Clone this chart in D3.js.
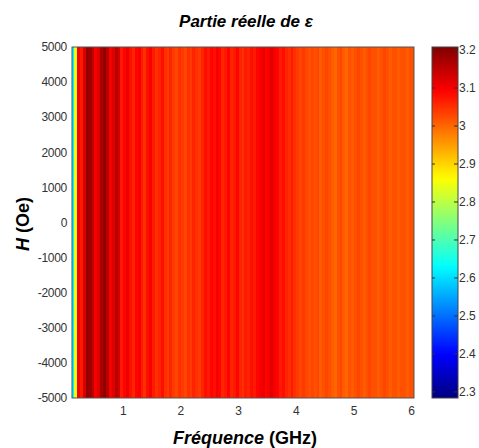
<!DOCTYPE html>
<html><head><meta charset="utf-8">
<script src="https://cdn.jsdelivr.net/npm/d3@7"></script>
<style>body{margin:0;background:#fff}svg{display:block}</style>
</head><body>
<svg id="c" width="479" height="448"></svg>
<script>
// ---- data ----
const freqStart = 0.10, freqStep = 0.05; // left edges of frequency bins (GHz)
const epsValues = [
 2.62,2.84,3.10,3.07,3.13,3.19,3.18,3.15,3.10,3.12,
 3.17,3.19,3.16,3.10,3.12,3.16,3.13,3.07,3.09,3.11,
 3.08,3.06,3.09,3.10,3.07,3.05,3.08,3.10,3.07,3.05,
 3.06,3.08,3.05,3.04,3.06,3.04,3.03,3.05,3.04,3.03,
 3.05,3.04,3.06,3.05,3.04,3.06,3.08,3.07,3.09,3.08,
 3.10,3.09,3.06,3.07,3.09,3.06,3.07,3.09,3.06,3.05,
 3.07,3.06,3.08,3.07,3.09,3.10,3.11,3.09,3.10,3.12,
 3.10,3.09,3.07,3.08,3.06,3.05,3.07,3.05,3.04,3.03,
 3.04,3.03,3.02,3.03,3.02,3.03,3.01,3.02,3.03,3.02,
 3.01,3.00,3.02,3.03,3.01,3.00,3.02,3.01,3.02,3.03,
 3.02,3.01,3.02,3.03,3.02,3.02,3.01,3.02,3.03,3.02,
 3.01,3.02,3.02,3.01,3.02,3.02,3.01,3.02,3.02
];
const hRange = [-5000, 5000];
const xTicks = [1,2,3,4,5,6];
const yTicks = [5000,4000,3000,2000,1000,0,-1000,-2000,-3000,-4000,-5000];
const cTicks = [3.2,3.1,3.0,2.9,2.8,2.7,2.6,2.5,2.4,2.3];
const cDomain = [2.284, 3.208];

// ---- colormap (jet) ----
function jet(t){
  t = Math.max(0, Math.min(1, t));
  const cl = v => Math.round(255*Math.max(0, Math.min(1, v)));
  return `rgb(${cl(1.5-Math.abs(4*t-3))},${cl(1.5-Math.abs(4*t-2))},${cl(1.5-Math.abs(4*t-1))})`;
}
const cNorm = d3.scaleLinear().domain(cDomain).range([0,1]);
const color = v => jet(cNorm(v));

const svg = d3.select('#c');
const L = 72, R = 414, T = 47, B = 398;
const x = d3.scaleLinear().domain([0.111, 6.04]).range([L, R]);
const y = d3.scaleLinear().domain(hRange).range([B, T]);

svg.append('defs').append('clipPath').attr('id','clip')
  .append('rect').attr('x',L).attr('y',T).attr('width',R-L).attr('height',B-T);

const cells = epsValues.map((v,i)=>({f0: freqStart + i*freqStep, f1: freqStart + (i+1)*freqStep, v}));
svg.append('g').attr('clip-path','url(#clip)')
  .selectAll('rect').data(cells).join('rect')
  .attr('x', d=>x(d.f0)).attr('width', d=>x(d.f1)-x(d.f0)+0.5)
  .attr('y', y(hRange[1])).attr('height', y(hRange[0])-y(hRange[1]))
  .attr('fill', d=>color(d.v)).attr('shape-rendering','crispEdges');

svg.append('rect').attr('x',L).attr('y',T).attr('width',R-L).attr('height',B-T)
  .attr('fill','none').attr('stroke','#555').attr('stroke-width',1);

const font = 'Liberation Sans, Arial, sans-serif';
// x tick labels
svg.append('g').selectAll('text').data(xTicks).join('text')
  .attr('x', d=>x(d)).attr('y', 415).attr('text-anchor','middle')
  .attr('font-family',font).attr('font-size',12).attr('fill','#333').text(d=>d);
// y tick labels
svg.append('g').selectAll('text').data(yTicks).join('text')
  .attr('x', 67).attr('y', d=>y(d)).attr('dy','0.35em').attr('text-anchor','end')
  .attr('font-family',font).attr('font-size',12).attr('fill','#333').attr('letter-spacing','-0.3').text(d=>d);

// title
svg.append('text').attr('x',246).attr('y',27).attr('text-anchor','middle')
  .attr('font-family',font).attr('font-size',17).attr('font-weight','bold').attr('font-style','italic')
  .text('Partie réelle de ε');
// x label
const xl = svg.append('text').attr('x',245).attr('y',444).attr('text-anchor','middle')
  .attr('font-family',font).attr('font-size',18).attr('font-weight','bold');
xl.append('tspan').attr('font-style','italic').text('Fréquence');
xl.append('tspan').text(' (GHz)');
// y label
const yl = svg.append('text').attr('transform','translate(29,224) rotate(-90)').attr('text-anchor','middle')
  .attr('font-family',font).attr('font-size',18).attr('font-weight','bold');
yl.append('tspan').attr('font-style','italic').text('H');
yl.append('tspan').text(' (Oe)');

// colorbar
const CL = 432, CR = 458;
const cy = d3.scaleLinear().domain(cDomain).range([B, T]);
const grad = svg.select('defs').append('linearGradient').attr('id','cg')
  .attr('x1',0).attr('y1',1).attr('x2',0).attr('y2',0);
d3.range(0, 1.0001, 0.02).forEach(t=>{
  grad.append('stop').attr('offset', t).attr('stop-color', jet(t));
});
svg.append('rect').attr('x',CL).attr('y',T).attr('width',CR-CL).attr('height',B-T)
  .attr('fill','url(#cg)').attr('stroke','#444').attr('stroke-width',1);
const ct = svg.append('g');
ct.selectAll('line.r').data(cTicks).join('line').attr('class','r')
  .attr('x1',CR-4).attr('x2',CR).attr('y1',d=>cy(d)).attr('y2',d=>cy(d)).attr('stroke','#333');
ct.selectAll('line.l').data(cTicks).join('line').attr('class','l')
  .attr('x1',CL).attr('x2',CL+3).attr('y1',d=>cy(d)).attr('y2',d=>cy(d)).attr('stroke','#333');
ct.selectAll('text').data(cTicks).join('text')
  .attr('x', CR+1).attr('y', d=>cy(d)).attr('dy','0.35em')
  .attr('font-family',font).attr('font-size',12).attr('fill','#333')
  .text(d=>d3.format('~g')(d));
</script>
</body></html>
